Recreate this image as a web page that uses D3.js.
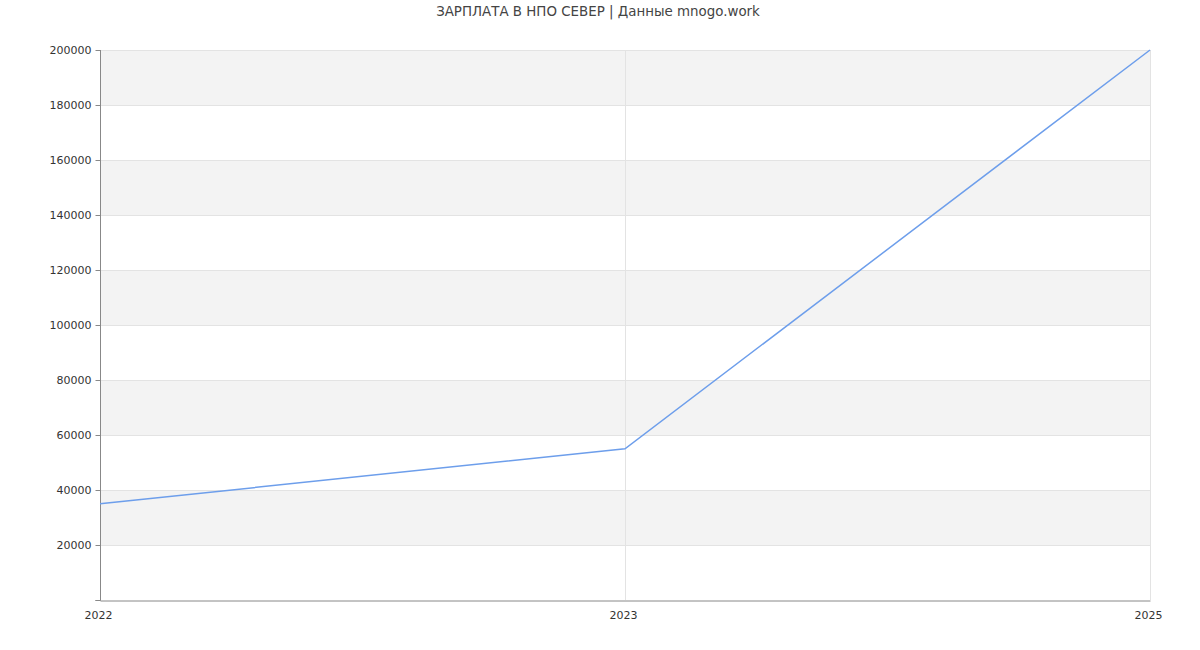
<!DOCTYPE html>
<html><head><meta charset="utf-8">
<script src="https://cdn.jsdelivr.net/npm/d3@7"></script>
<style>body{margin:0;background:#fff;}svg{display:block;font-family:"DejaVu Sans",sans-serif;}</style>
</head><body><svg id="c" width="1200" height="650"></svg>
<script>
const title = "ЗАРПЛАТА В НПО СЕВЕР | Данные mnogo.work";
const years = ["2022", "2023", "2025"];
const salaries = [35000, 55000, 200000];
const yTicks = [20000, 40000, 60000, 80000, 100000, 120000, 140000, 160000, 180000, 200000];
const bandStarts = [20000, 60000, 100000, 140000, 180000];

const svg = d3.select("#c");
const m = {l:100, r:50, t:50, b:50};
const W = 1200, H = 650;
const x = d3.scalePoint().domain(years).range([m.l, W - m.r]);
const y = d3.scaleLinear().domain([0, 200000]).range([H - m.b, m.t]);

svg.append("text").attr("x", 598).attr("y", 16).attr("text-anchor", "middle")
  .attr("font-size", 13.4).attr("fill", "#444").text(title);

svg.selectAll("rect.band").data(bandStarts).enter().append("rect")
  .attr("x", m.l).attr("width", W - m.r - m.l)
  .attr("y", d => y(d + 20000)).attr("height", d => y(d) - y(d + 20000))
  .attr("fill", "#f3f3f3");

svg.selectAll("line.hg").data(yTicks).enter().append("line")
  .attr("x1", m.l).attr("x2", W - m.r)
  .attr("y1", d => y(d) + 0.5).attr("y2", d => y(d) + 0.5)
  .attr("stroke", "#e3e3e3");

svg.selectAll("line.vg").data(years.slice(1)).enter().append("line")
  .attr("x1", d => x(d) + 0.5).attr("x2", d => x(d) + 0.5)
  .attr("y1", m.t).attr("y2", H - m.b)
  .attr("stroke", "#e3e3e3");

const ya = svg.append("g").attr("transform", `translate(${m.l + 0.5},0)`)
  .call(d3.axisLeft(y).tickValues([0].concat(yTicks)).tickSize(5).tickPadding(4)
    .tickFormat(d => d === 0 ? "" : d3.format("d")(d)));
ya.select(".domain").attr("stroke", "#888").attr("d", `M-5,${y(0)+0.5}H0V${y(200000)}`);
ya.selectAll(".tick line").attr("stroke", "#888");
ya.selectAll(".tick text").attr("font-size", 11).attr("fill", "#333").attr("font-family", "DejaVu Sans, sans-serif");

const xa = svg.append("g").attr("transform", `translate(0,${H - m.b + 0.5})`)
  .call(d3.axisBottom(x).tickSize(0).tickPadding(11));
xa.select(".domain").attr("stroke", "#888");
xa.selectAll(".tick text").attr("font-size", 11).attr("fill", "#333").attr("font-family", "DejaVu Sans, sans-serif")
  .attr("dx", -2);

const line = d3.line().x((d, i) => x(years[i])).y(d => y(d));
svg.append("path").datum(salaries).attr("d", line)
  .attr("fill", "none").attr("stroke", "#6d9eeb").attr("stroke-width", 1.5);
</script></body></html>
